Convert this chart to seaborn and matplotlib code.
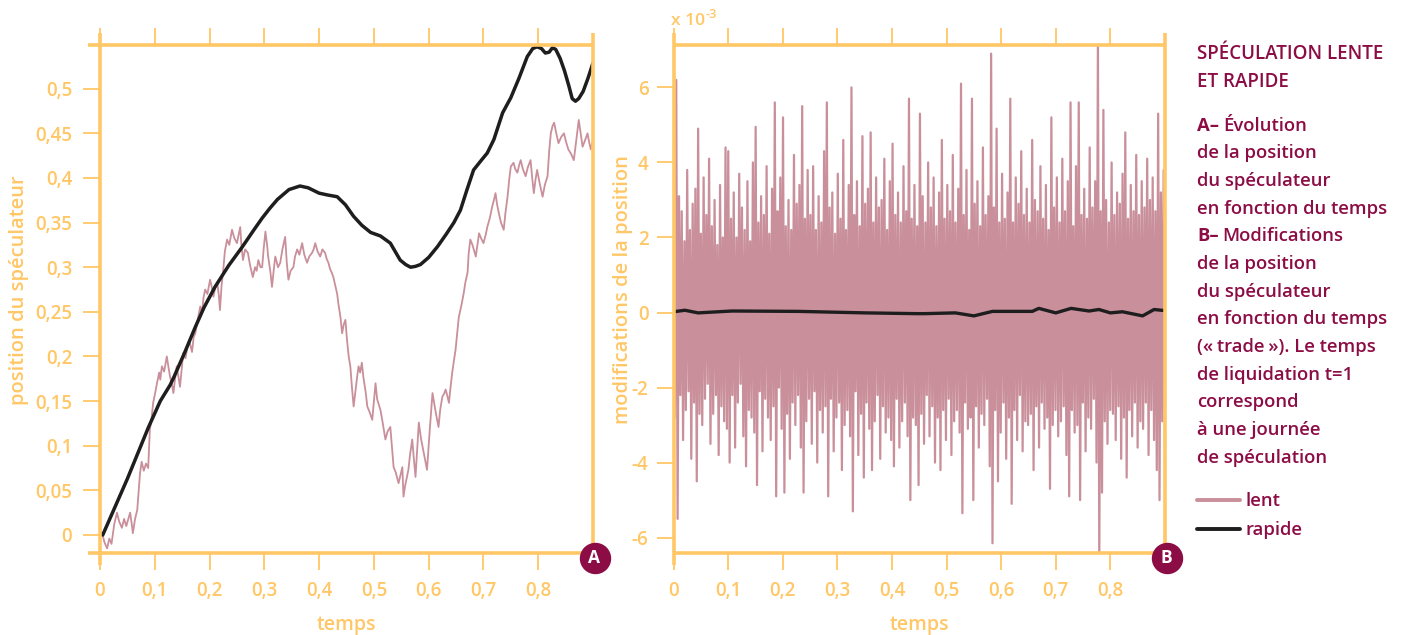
import numpy as np
import pandas as pd
import matplotlib
matplotlib.use("Agg")
import matplotlib.pyplot as plt
import matplotlib.transforms as mtransforms
from matplotlib.lines import Line2D
import seaborn as sns

# ---------------- data ----------------
# Panel A, "lent" (slow speculator) position: (temps, position)
lent_a = [
    (0.000, 0.004), (0.004, 0.002), (0.008, -0.008), (0.013, -0.015), (0.017, -0.004), (0.021, -0.010), (0.026, 0.012), (0.031, 0.025), (0.035, 0.015), (0.040, 0.008),
    (0.044, 0.018), (0.048, 0.010), (0.055, 0.025), (0.058, 0.012), (0.060, 0.002), (0.064, 0.018), (0.068, 0.028), (0.073, 0.069), (0.076, 0.082), (0.080, 0.072),
    (0.084, 0.080), (0.088, 0.075), (0.091, 0.118), (0.094, 0.130), (0.097, 0.148), (0.101, 0.160), (0.104, 0.170), (0.108, 0.182), (0.110, 0.174), (0.113, 0.189),
    (0.117, 0.183), (0.122, 0.200), (0.125, 0.188), (0.128, 0.177), (0.131, 0.170), (0.134, 0.159), (0.137, 0.175), (0.140, 0.189), (0.143, 0.178), (0.146, 0.166),
    (0.149, 0.185), (0.152, 0.204), (0.156, 0.198), (0.160, 0.212), (0.164, 0.215), (0.168, 0.205), (0.171, 0.222), (0.174, 0.226), (0.178, 0.240), (0.183, 0.256),
    (0.186, 0.248), (0.189, 0.266), (0.192, 0.275), (0.196, 0.270), (0.201, 0.286), (0.204, 0.278), (0.207, 0.267), (0.210, 0.276), (0.214, 0.283), (0.217, 0.268),
    (0.219, 0.252), (0.222, 0.280), (0.225, 0.297), (0.228, 0.318), (0.232, 0.331), (0.236, 0.325), (0.241, 0.342), (0.245, 0.333), (0.250, 0.327), (0.253, 0.336),
    (0.256, 0.345), (0.258, 0.326), (0.261, 0.308), (0.265, 0.320), (0.270, 0.316), (0.274, 0.302), (0.279, 0.289), (0.283, 0.300), (0.286, 0.296), (0.289, 0.308),
    (0.293, 0.300), (0.296, 0.300), (0.299, 0.322), (0.302, 0.340), (0.305, 0.325), (0.307, 0.312), (0.311, 0.295), (0.314, 0.278), (0.317, 0.296), (0.320, 0.312),
    (0.325, 0.300), (0.329, 0.305), (0.333, 0.320), (0.338, 0.334), (0.341, 0.305), (0.344, 0.286), (0.348, 0.296), (0.353, 0.300), (0.356, 0.312), (0.360, 0.320),
    (0.364, 0.314), (0.369, 0.327), (0.373, 0.314), (0.378, 0.305), (0.382, 0.312), (0.387, 0.316), (0.390, 0.320), (0.393, 0.327), (0.397, 0.318), (0.402, 0.312),
    (0.406, 0.320), (0.411, 0.316), (0.414, 0.309), (0.417, 0.305), (0.420, 0.298), (0.423, 0.294), (0.426, 0.289), (0.430, 0.278), (0.433, 0.270), (0.435, 0.260),
    (0.439, 0.244), (0.442, 0.226), (0.445, 0.236), (0.448, 0.241), (0.451, 0.218), (0.454, 0.200), (0.457, 0.189), (0.460, 0.165), (0.463, 0.144), (0.467, 0.165),
    (0.470, 0.180), (0.472, 0.189), (0.475, 0.182), (0.478, 0.193), (0.481, 0.176), (0.485, 0.160), (0.488, 0.144), (0.492, 0.138), (0.497, 0.129), (0.500, 0.150),
    (0.503, 0.170), (0.506, 0.152), (0.509, 0.146), (0.512, 0.140), (0.516, 0.126), (0.521, 0.107), (0.525, 0.116), (0.530, 0.121), (0.533, 0.098), (0.536, 0.076),
    (0.540, 0.070), (0.545, 0.058), (0.549, 0.068), (0.552, 0.076), (0.554, 0.043), (0.557, 0.055), (0.560, 0.064), (0.563, 0.073), (0.566, 0.090), (0.570, 0.107),
    (0.573, 0.085), (0.576, 0.065), (0.579, 0.095), (0.582, 0.126), (0.586, 0.108), (0.591, 0.092), (0.594, 0.082), (0.597, 0.073), (0.602, 0.118), (0.607, 0.159),
    (0.610, 0.148), (0.613, 0.137), (0.618, 0.121), (0.621, 0.140), (0.625, 0.155), (0.628, 0.158), (0.631, 0.163), (0.634, 0.156), (0.637, 0.148), (0.640, 0.166),
    (0.643, 0.182), (0.646, 0.195), (0.649, 0.207), (0.652, 0.226), (0.655, 0.244), (0.660, 0.258), (0.664, 0.271), (0.667, 0.283), (0.671, 0.294), (0.673, 0.315),
    (0.676, 0.331), (0.680, 0.325), (0.686, 0.312), (0.689, 0.325), (0.692, 0.338), (0.696, 0.332), (0.700, 0.327), (0.704, 0.336), (0.707, 0.345), (0.712, 0.356),
    (0.716, 0.368), (0.719, 0.375), (0.722, 0.383), (0.725, 0.370), (0.728, 0.361), (0.732, 0.350), (0.737, 0.342), (0.740, 0.360), (0.744, 0.379), (0.747, 0.398),
    (0.750, 0.413), (0.755, 0.417), (0.758, 0.410), (0.762, 0.406), (0.765, 0.414), (0.768, 0.420), (0.772, 0.410), (0.777, 0.402), (0.781, 0.412), (0.786, 0.420),
    (0.789, 0.400), (0.792, 0.383), (0.795, 0.398), (0.798, 0.409), (0.803, 0.393), (0.808, 0.379), (0.812, 0.392), (0.817, 0.402), (0.820, 0.430), (0.823, 0.450),
    (0.826, 0.458), (0.829, 0.462), (0.833, 0.450), (0.837, 0.439), (0.842, 0.446), (0.847, 0.450), (0.851, 0.440), (0.855, 0.432), (0.860, 0.427), (0.865, 0.420),
    (0.870, 0.445), (0.874, 0.465), (0.878, 0.448), (0.881, 0.435), (0.886, 0.443), (0.890, 0.450), (0.893, 0.440), (0.896, 0.432), (0.900, 0.443),
]

# Panel A, "rapide" (fast speculator) position
rapide_a_t = [0.005, 0.05, 0.088, 0.11, 0.128, 0.135, 0.155, 0.174, 0.19, 0.21,
              0.235, 0.26, 0.28, 0.296, 0.31, 0.324, 0.345, 0.365, 0.38, 0.40,
              0.415, 0.433, 0.448, 0.463, 0.478, 0.494, 0.512, 0.53, 0.548, 0.558,
              0.567, 0.576, 0.585, 0.60, 0.616, 0.632, 0.646, 0.658, 0.67, 0.682,
              0.695, 0.707, 0.719, 0.735, 0.75, 0.765, 0.78, 0.79, 0.798, 0.806,
              0.813, 0.82, 0.826, 0.832, 0.84, 0.848, 0.856, 0.862, 0.868, 0.874,
              0.882, 0.891, 0.9]
rapide_a_y = [0.0, 0.063, 0.12, 0.150, 0.168, 0.177, 0.205, 0.233, 0.255, 0.278,
              0.302, 0.323, 0.341, 0.355, 0.366, 0.376, 0.387, 0.391, 0.389, 0.383,
              0.381, 0.379, 0.370, 0.357, 0.347, 0.339, 0.335, 0.327, 0.308, 0.303,
              0.300, 0.301, 0.303, 0.311, 0.323, 0.337, 0.350, 0.364, 0.387, 0.409,
              0.419, 0.428, 0.443, 0.473, 0.490, 0.512, 0.536, 0.545, 0.547, 0.545,
              0.540, 0.541, 0.546, 0.544, 0.534, 0.520, 0.503, 0.489, 0.486, 0.489,
              0.497, 0.512, 0.529]

# Panel B, "lent" trade (units of 1e-3), evenly sampled over [0, 0.9]
trade_lent = [
    2.4, -2.8, 6.2, -5.5, 3.1, -2.2, 2.7, -3.4, 1.9, -2.6, 3.8, -2.1, 2.2, -3.9, 2.9, -2.4, 3.3, -4.5, 4.9, -2.7,
    2.1, -3.0, 3.6, -2.3, 2.6, -1.9, 4.1, -3.5, 2.3, -2.7, 3.0, -2.2, 1.8, -3.8, 3.4, -2.5, 2.0, -2.9, 4.4, -3.1,
    4.3, -4.0, 2.5, -2.2, 3.2, -3.6, 2.0, -2.4, 3.7, -1.9, 2.8, -3.3, 2.2, -4.1, 3.5, -2.6, 1.9, -2.8, 4.0, -3.2,
    4.95, -4.6, 2.4, -2.1, 3.1, -3.7, 2.6, -2.3, 3.9, -2.8, 2.1, -3.4, 3.3, -2.5, 5.6, -4.9, 2.7, -2.0, 3.6, -3.1,
    5.2, -4.8, 2.3, -2.7, 3.0, -3.9, 2.2, -2.4, 4.2, -3.0, 2.9, -2.2, 3.4, -3.6, 5.5, -4.8, 2.5, -2.9, 3.8, -2.3,
    2.6, -3.5, 3.9, -2.1, 2.2, -4.0, 3.1, -2.6, 2.4, -3.2, 4.3, -2.5, 5.6, -4.9, 2.8, -2.3, 3.2, -3.7, 2.1, -2.8,
    3.7, -2.4, 2.5, -4.2, 4.6, -3.0, 2.2, -2.6, 3.4, -3.3, 6.0, -5.3, 2.6, -2.1, 3.5, -3.8, 2.3, -2.7, 4.7, -4.4,
    2.9, -2.4, 3.3, -3.1, 4.8, -4.2, 2.4, -2.9, 3.6, -2.2, 2.8, -3.9, 3.0, -2.5, 4.1, -3.2, 2.2, -2.8, 3.5, -3.4,
    4.5, -4.1, 2.6, -2.3, 3.2, -3.6, 2.4, -2.9, 3.9, -2.4, 2.7, -3.3, 5.7, -5.0, 2.5, -2.8, 3.4, -3.0, 2.3, -4.6,
    5.3, -2.7, 3.1, -3.5, 2.4, -2.2, 4.0, -3.3, 2.8, -2.5, 3.6, -4.0, 2.3, -2.8, 3.2, -4.2, 4.6, -2.6, 2.5, -3.4,
    3.4, -2.3, 2.7, -3.8, 4.2, -2.9, 2.4, -2.6, 3.3, -3.2, 6.1, -5.35, 2.6, -2.4, 3.8, -3.1, 2.2, -2.8, 5.7, -5.0,
    2.9, -2.5, 3.5, -3.6, 2.3, -2.7, 4.4, -3.0, 2.6, -2.3, 3.1, -4.1, 6.9, -6.15, 2.8, -2.6, 4.9, -4.5, 2.4, -3.2,
    3.7, -2.4, 2.5, -3.9, 3.2, -2.8, 5.7, -5.1, 2.4, -2.6, 3.6, -3.4, 2.9, -2.2, 4.3, -3.7, 2.6, -2.9, 3.3, -3.0,
    2.4, -2.7, 4.6, -4.2, 3.0, -2.5, 2.7, -3.6, 3.9, -2.4, 2.5, -3.1, 3.4, -2.8, 2.2, -4.7, 5.2, -3.0, 2.8, -2.6,
    3.6, -3.3, 2.4, -2.9, 4.1, -2.5, 2.7, -3.8, 3.5, -4.9, 5.6, -2.6, 2.3, -3.2, 3.9, -3.0, 5.6, -5.0, 2.6, -2.4,
    3.3, -3.7, 2.5, -2.8, 4.4, -3.1, 2.8, -2.3, 3.5, -4.0, 7.3, -6.6, 2.7, -4.8, 5.4, -2.9, 3.0, -3.5, 2.4, -2.6,
    4.0, -2.7, 2.6, -3.4, 3.2, -2.5, 2.9, -3.9, 3.7, -2.8, 4.8, -4.4, 2.5, -2.6, 3.4, -3.3, 2.7, -2.4, 4.2, -3.6,
    2.6, -2.9, 3.5, -3.1, 2.8, -2.4, 4.1, -3.8, 3.0, -2.6, 3.6, -3.4, 2.7, -4.2, 5.3, -5.0, 3.2, -2.9, 3.8, -3.5,
]

# Panel B, "rapide" trade (units of 1e-3)
rapide_b_t = [0.0, 0.021, 0.045, 0.107, 0.229, 0.351, 0.443, 0.461, 0.516, 0.55,
              0.584, 0.657, 0.669, 0.70, 0.728, 0.761, 0.779, 0.80, 0.822, 0.859,
              0.88, 0.9]
rapide_b_y = [0.02, 0.06, -0.01, 0.04, 0.03, -0.01, -0.03, -0.03, -0.01, -0.09,
              0.03, 0.03, 0.11, -0.01, 0.11, 0.04, 0.08, -0.01, 0.02, -0.09,
              0.08, 0.05]

x_ticks = [0, 0.1, 0.2, 0.3, 0.4, 0.5, 0.6, 0.7, 0.8]
x_ticklabels = ["0", "0,1", "0,2", "0,3", "0,4", "0,5", "0,6", "0,7", "0,8"]
ya_ticks = [0, 0.05, 0.1, 0.15, 0.2, 0.25, 0.3, 0.35, 0.4, 0.45, 0.5]
ya_ticklabels = ["0", "0,05", "0,1", "0,15", "0,2", "0,25", "0,3", "0,35", "0,4", "0,45", "0,5"]
yb_ticks = [-6, -4, -2, 0, 2, 4, 6]
yb_ticklabels = ["-6", "-4", "-2", "0", "2", "4", "6"]

# ---------------- style ----------------
sns.set_theme(style="white")
plt.rcParams['font.family'] = ['Open Sans', 'DejaVu Sans']

ORANGE = "#FFC766"
PINK = "#C98F9A"
BLACK = "#1E1E1E"
CRIMSON = "#8C0D45"
MED = 600

W, H = 1404, 635
fig = plt.figure(figsize=(W / 100, H / 100), dpi=100)


def fx(px):
    return px / W


def fy(py):
    return 1 - py / H


axA = fig.add_axes([fx(100), fy(553), (593 - 100) / W, (553 - 45) / H])
axB = fig.add_axes([fx(673.5), fy(553), (1165 - 673.5) / W, (553 - 45) / H])

# ---------------- panel A ----------------
dfA_lent = pd.DataFrame(lent_a, columns=["temps", "position"])
dfA_rap = pd.DataFrame({"temps": rapide_a_t, "position": rapide_a_y})
sns.lineplot(data=dfA_lent, x="temps", y="position", ax=axA, color=PINK,
             lw=1.3, estimator=None, sort=False, zorder=2)
sns.lineplot(data=dfA_rap, x="temps", y="position", ax=axA, color=BLACK,
             lw=2.5, estimator=None, sort=False, zorder=3)
axA.set_ylim(-0.0202, 0.549)

# ---------------- panel B ----------------
dfB_lent = pd.DataFrame({"temps": np.linspace(0, 0.9, len(trade_lent)), "trade": trade_lent})
dfB_rap = pd.DataFrame({"temps": rapide_b_t, "trade": rapide_b_y})
sns.lineplot(data=dfB_lent, x="temps", y="trade", ax=axB, color=PINK,
             lw=1.6, estimator=None, sort=False, zorder=2)
sns.lineplot(data=dfB_rap, x="temps", y="trade", ax=axB, color=BLACK,
             lw=2.4, estimator=None, sort=False, zorder=3)
axB.set_ylim(-6.41, 7.13)


def style_axes(ax, yticks, ylabels, ypad, ext_left, ylabel, ylab_x):
    ax.set_xlim(0, 0.9)
    ax.set_xticks(x_ticks)
    ax.set_xticklabels(x_ticklabels)
    ax.set_yticks(yticks)
    ax.set_yticklabels(ylabels)
    ax.grid(False)
    for s in ax.spines.values():
        s.set_visible(False)
    ax.tick_params(axis="x", direction="out", length=12, width=1.3, colors=ORANGE,
                   top=True, bottom=True, labeltop=False, labelbottom=True,
                   pad=8, labelsize=13.5)
    ax.tick_params(axis="y", direction="out", length=12, width=1.3, colors=ORANGE,
                   left=True, right=False, pad=ypad, labelsize=13.5)
    for lab in ax.get_xticklabels() + ax.get_yticklabels():
        lab.set_fontweight(MED)
    ax.set_xlabel("temps", color=ORANGE, fontsize=14, fontweight=MED)
    ax.xaxis.set_label_coords(0.5, -0.122)
    ax.set_ylabel(ylabel, color=ORANGE, fontsize=14.5, fontweight=MED)
    ax.yaxis.set_label_coords(ylab_x, 0.518)
    # frame lines (spines extended past the corners)
    w = ax.bbox.width
    h = ax.bbox.height
    e = 12.0
    kw = dict(transform=ax.transAxes, color=ORANGE, lw=2.6, clip_on=False,
              solid_capstyle="butt", zorder=6)
    ax.add_line(Line2D([-ext_left * e / w, 1], [1, 1], **kw))
    ax.add_line(Line2D([-ext_left * e / w, 1], [0, 0], **kw))
    ax.add_line(Line2D([0, 0], [1 + e / h, -e / h], **kw))
    ax.add_line(Line2D([1, 1], [1 + e / h, 0], **kw))


style_axes(axA, ya_ticks, ya_ticklabels, 8.0, 1, "position du spéculateur",
           (29 - 100) / 493)
style_axes(axB, yb_ticks, yb_ticklabels, 6.0, 0, "modifications de la position",
           (633 - 673.5) / 491.5)

# panel badges
for ax, letter in [(axA, "A"), (axB, "B")]:
    tr = mtransforms.offset_copy(ax.transAxes, fig=fig, x=1.5, y=-4.7, units="dots")
    ax.add_line(Line2D([1], [0], marker="o", ms=21.6, mfc=CRIMSON, mec=CRIMSON,
                       transform=tr, clip_on=False, zorder=10))
    ax.text(1, 0, letter, transform=tr, ha="center", va="center", color="white",
            fontsize=12.5, fontweight="bold", zorder=11, clip_on=False)

# x 10^-3 label
fig.text(fx(671), fy(25), "x 10", color=ORANGE, fontsize=12.5, fontweight=MED,
         va="baseline", ha="left")
fig.text(fx(705), fy(18), "-3", color=ORANGE, fontsize=9, fontweight=MED,
         va="baseline", ha="left")

# ---------------- side text ----------------
TX = 1197
TITLE_FS = 13.5
fig.text(fx(TX), fy(59.3), "SPÉCULATION LENTE", color=CRIMSON, fontsize=TITLE_FS,
         fontweight="semibold", va="baseline", ha="left")
fig.text(fx(TX), fy(86.7), "ET RAPIDE", color=CRIMSON, fontsize=TITLE_FS,
         fontweight="semibold", va="baseline", ha="left")

body = [
    ("A–", "Évolution", 130.7),
    ("", "de la position", 158.3),
    ("", "du spéculateur", 186.0),
    ("", "en fonction du temps", 213.7),
    ("B–", "Modifications", 241.3),
    ("", "de la position", 269.0),
    ("", "du spéculateur", 296.7),
    ("", "en fonction du temps", 324.3),
    ("", "(«\u2009trade\u2009»). Le temps", 352.0),
    ("", "de liquidation t=1", 379.7),
    ("", "correspond", 407.3),
    ("", "à une journée", 435.0),
    ("", "de spéculation", 462.7),
]
renderer = fig.canvas.get_renderer()
BODY_FS = 13.3
for prefix, txt, yb in body:
    x = TX
    if prefix:
        t = fig.text(fx(x), fy(yb), prefix, color=CRIMSON, fontsize=BODY_FS,
                     fontweight="bold", va="baseline", ha="left")
        x = t.get_window_extent(renderer).x1 + 4
    fig.text(fx(x), fy(yb), txt, color=CRIMSON, fontsize=BODY_FS, fontweight=MED,
             va="baseline", ha="left")

handles = [Line2D([], [], color=PINK, lw=2.8), Line2D([], [], color=BLACK, lw=2.8)]
leg = fig.legend(handles=handles, labels=["lent", "rapide"], loc="upper left",
                 bbox_to_anchor=(fx(1196.5), fy(492)), bbox_transform=fig.transFigure,
                 frameon=False, labelcolor=CRIMSON,
                 handlelength=44 / 18.5, handletextpad=5 / 18.5, labelspacing=0.6,
                 borderpad=0, borderaxespad=0, prop={"weight": MED, "size": BODY_FS})

fig.savefig("out.png", dpi=100)
